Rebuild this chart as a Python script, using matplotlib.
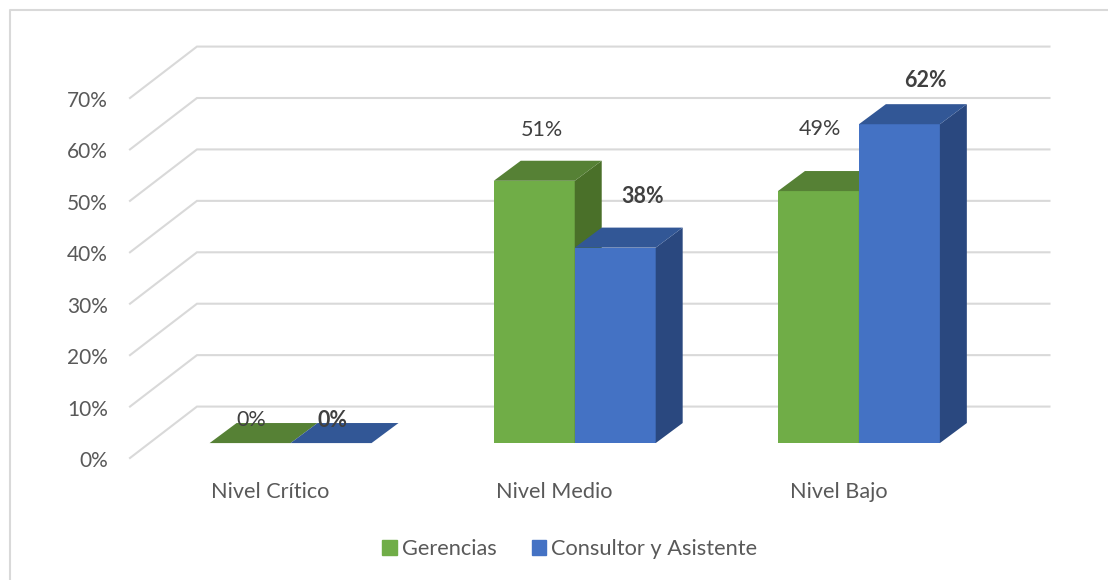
import matplotlib
matplotlib.use("Agg")
import matplotlib.pyplot as plt
from matplotlib.lines import Line2D
from matplotlib.patches import Patch, Polygon
from matplotlib.transforms import ScaledTranslation

plt.rcParams['font.family'] = ['Lato', 'DejaVu Sans']

categories = ["Nivel Crítico", "Nivel Medio", "Nivel Bajo"]
gerencias = [0, 51, 49]
consultor = [0, 38, 62]
y_ticks = [0, 10, 20, 30, 40, 50, 60, 70]

GREEN = ("#70AD47", "#568135", "#4A7029")
BLUE = ("#4472C4", "#325796", "#2A487F")
GRID = "#D9D9D9"
PX = 72 / 100  # points per pixel at dpi 100

W, H = 1108, 580
fig = plt.figure(figsize=(W / 100, H / 100), dpi=100)
ax = fig.add_axes([130 / W, (H - 458) / H, (982.5 - 130) / W, 360 / H])
ax.set_xlim(-0.5, 2.5)
ax.set_ylim(0, 70)
for s in ax.spines.values():
    s.set_visible(False)

# depth of the fake 3d box, in data units
wall_dx, wall_dy = 67 / 284.33, 10.0
shift_dx, shift_dy = 18.5 / 284.33, 2.9
bar_dx, bar_dy = 27 / 284.33, 3.9
bar_w = 81 / 284.33

for t in y_ticks:
    ax.plot([-0.5, -0.5 + wall_dx, 2.5 + wall_dx], [t, t + wall_dy, t + wall_dy],
            color=GRID, lw=1.5, clip_on=False, zorder=1, solid_joinstyle="miter")


def draw_bar(x0, val, cols):
    y0 = shift_dy
    y1 = y0 + val
    if val > 0:
        ax.bar(x0, val, bar_w, bottom=y0, align="edge", color=cols[0], zorder=3)
        ax.add_patch(Polygon([(x0 + bar_w, y0), (x0 + bar_w + bar_dx, y0 + bar_dy),
                              (x0 + bar_w + bar_dx, y1 + bar_dy), (x0 + bar_w, y1)],
                             facecolor=cols[2], edgecolor="none", clip_on=False, zorder=3))
    ax.add_patch(Polygon([(x0, y1), (x0 + bar_dx, y1 + bar_dy),
                          (x0 + bar_w + bar_dx, y1 + bar_dy), (x0 + bar_w, y1)],
                         facecolor=cols[1], edgecolor="none", clip_on=False, zorder=3))


for i in range(len(categories)):
    c = i + shift_dx
    draw_bar(c - bar_w, gerencias[i], GREEN)
    draw_bar(c, consultor[i], BLUE)

# hand placed labels, pixel offset from the top of each bar
green_off = [(1, 33), (8, 61), (2, 72)]
blue_off = [(1.5, 33), (27, 61), (26, 54)]
for i in range(len(categories)):
    c = i + shift_dx
    ax.annotate(f"{gerencias[i]}%", (c - bar_w / 2, gerencias[i] + shift_dy),
                xytext=(green_off[i][0] * PX, (green_off[i][1] - 10) * PX), textcoords="offset points",
                ha="center", va="center", fontsize=15.5, color="#404040", zorder=5, annotation_clip=False)
    ax.annotate(f"{consultor[i]}%", (c + bar_w / 2, consultor[i] + shift_dy),
                xytext=(blue_off[i][0] * PX, (blue_off[i][1] - 10) * PX), textcoords="offset points",
                ha="center", va="center", fontsize=15.5, fontweight="bold", color="#404040", zorder=5, annotation_clip=False)

ax.set_xticks(range(len(categories)))
ax.set_xticklabels(categories)
ax.set_yticks(y_ticks)
ax.set_yticklabels([f"{t}%" for t in y_ticks])
ax.tick_params(axis="both", length=0, labelcolor="#595959")
ax.tick_params(axis="y", pad=16, labelsize=15)
ax.tick_params(axis="x", pad=17.5, labelsize=15.6)
for lbl in ax.get_yticklabels():
    lbl.set_transform(lbl.get_transform() + ScaledTranslation(0, -1 / 100, fig.dpi_scale_trans))
for lbl in ax.get_xticklabels():
    lbl.set_transform(lbl.get_transform() + ScaledTranslation(-2 / 100, 0, fig.dpi_scale_trans))

handles = [Patch(color=GREEN[0], label="Gerencias"), Patch(color=BLUE[0], label="Consultor y Asistente")]
fig.legend(handles=handles, loc="center", bbox_to_anchor=(570 / W, (H - 549) / H), ncol=2, frameon=False,
           fontsize=15.7, labelcolor="#595959", handlelength=0.65, handleheight=0.65,
           handletextpad=0.25, columnspacing=1.6)

# chart frame, only left and top show in the picture
fig.add_artist(Line2D([9.5 / W, 9.5 / W, 1], [0, (H - 10) / H, (H - 10) / H], color=GRID, lw=1.5))

fig.savefig("out.png", dpi=100)
